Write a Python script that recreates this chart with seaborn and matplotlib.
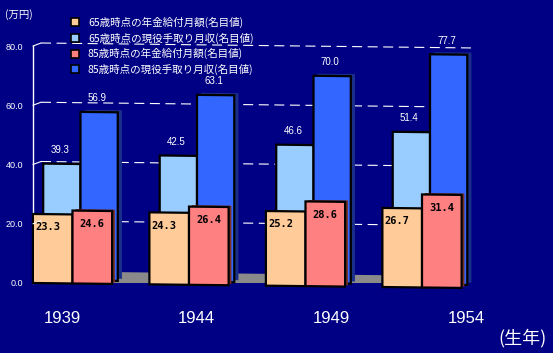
import math
import matplotlib
matplotlib.use('Agg')
import matplotlib.pyplot as plt
import matplotlib.transforms as mtransforms
from matplotlib import patheffects as pe
from matplotlib.patches import Patch
from matplotlib.font_manager import FontProperties
import pandas as pd
import seaborn as sns

# chart data
years = ['1939', '1944', '1949', '1954']
pension_65 = [23.3, 24.3, 25.2, 26.7]
income_65 = [39.3, 42.5, 46.6, 51.4]
pension_85 = [24.6, 26.4, 28.6, 31.4]
income_85 = [56.9, 63.1, 70.0, 77.7]
series_names = ['65歳時点の年金給付月額(名目値)', '65歳時点の現役手取り月収(名目値)',
                '85歳時点の年金給付月額(名目値)', '85歳時点の現役手取り月収(名目値)']
yticks = [0, 20, 40, 60, 80]

colors = ['#FFCC99', '#99CCFF', '#FF8080', '#3366FF']
NAVY = '#000084'
CJK = ['Noto Sans CJK JP', 'DejaVu Sans']

sns.set_theme(style='white')
plt.rcParams['font.family'] = ['Liberation Sans', 'DejaVu Sans']

front = pd.DataFrame({'year': years * 2, 'value': pension_65 + pension_85,
                      'series': [series_names[0]] * 4 + [series_names[2]] * 4})
back = pd.DataFrame({'year': years * 2, 'value': income_65 + income_85,
                     'series': [series_names[1]] * 4 + [series_names[3]] * 4})

fig = plt.figure(figsize=(5.53, 3.53), dpi=100, facecolor=NAVY)
ax = fig.add_axes([33 / 553, 70 / 353, 432 / 553, 237 / 353])
ax.set_facecolor(NAVY)

# slight perspective: the floor drops a few pixels to the right
x0 = 33
tilt = mtransforms.Affine2D().translate(-x0, 0).skew(0, math.atan(-0.0115)).translate(x0, 0)
persp = ax.transData + tilt
# back row pushed back a bit to fake the 3D depth
depth = mtransforms.offset_copy(persp, fig=fig, x=8, y=3, units='dots')

sns.barplot(data=back, x='year', y='value', hue='series', order=years,
            palette=[colors[1], colors[3]], width=0.64, saturation=1,
            edgecolor='black', linewidth=1.6, legend=False, ax=ax)
for p in ax.patches:
    p.set_transform(depth)
    p.set_clip_on(False)
    p.set_zorder(2)
for p in ax.containers[1]:
    p.set_path_effects([pe.SimplePatchShadow(offset=(3, 1.5), shadow_rgbFace='#1a2f8a', alpha=1), pe.Normal()])

# front row (pension)
sns.barplot(data=front, x='year', y='value', hue='series', order=years,
            palette=[colors[0], colors[2]], width=0.68, saturation=1,
            edgecolor='black', linewidth=1.6, legend=False, ax=ax)
for c in ax.containers[2:]:
    for p in c:
        p.set_transform(persp)
        p.set_zorder(3)
        p.set_clip_on(False)
for p in ax.containers[3]:
    p.set_path_effects([pe.SimplePatchShadow(offset=(2, 1), shadow_rgbFace='#7a3020', alpha=1), pe.Normal()])

# value labels
for c, vals in zip(ax.containers[:2], [income_65, income_85]):
    for bar, v in zip(c, vals):
        ax.annotate(f'{v:.1f}', xy=(bar.get_x() + bar.get_width() / 2, bar.get_height()),
                    xycoords=persp, xytext=(6, 17), textcoords='offset pixels',
                    ha='center', va='center', color='white', fontsize=7, zorder=5,
                    annotation_clip=False)
for c, vals, dx in zip(ax.containers[2:], [pension_65, pension_85], [-5, 0]):
    for bar, v in zip(c, vals):
        ax.annotate(f'{v:.1f}', xy=(bar.get_x() + bar.get_width() / 2, bar.get_height()),
                    xycoords=persp, xytext=(dx, -13), textcoords='offset pixels',
                    ha='center', va='center', color='black', fontsize=7.5,
                    fontweight='bold', family='DejaVu Sans Mono', zorder=5)

# back-wall dashed gridlines with slanted connectors
for v in yticks[1:]:
    ln = ax.axhline(v, color='white', lw=0.8, ls=(0, (9, 5)), zorder=1)
    ln.set_transform(mtransforms.offset_copy(ln.get_transform() + tilt, fig=fig, x=8, y=3, units='dots'))
    ln.set_clip_on(False)
    ax.annotate('', xy=(0, v), xycoords=ax.get_yaxis_transform(), xytext=(8, 3),
                textcoords='offset pixels',
                arrowprops=dict(arrowstyle='-', color='white', lw=0.8, shrinkA=0, shrinkB=0))

# grey floor
floor = ax.axhspan(0, 2, color='#8a8a8a', zorder=0.8, lw=0)
floor.set_transform(floor.get_transform() + tilt)

ax.set_xlim(-0.339, 3.369)
ax.set_ylim(0, 80)
ax.set_yticks(yticks)
ax.set_yticklabels([f'{t:.1f}' for t in yticks])
ax.tick_params(axis='y', colors='white', labelsize=6.5, length=0, pad=7)
ax.tick_params(axis='x', length=0, labelbottom=False)
ax.set_xlabel('')
ax.set_ylabel('')
for s in ['top', 'right', 'bottom']:
    ax.spines[s].set_visible(False)
ax.spines['left'].set_color('white')
ax.spines['left'].set_linewidth(1)
ax.grid(False)

# year labels follow the wider front perspective
ax2 = fig.add_axes([33 / 553, 70 / 353, 487 / 553, 237 / 353], facecolor='none')
ax2.set_xlim((33 - 62) / 134.7, (520 - 62) / 134.7)
ax2.set_xticks(range(len(years)), years)
ax2.set_yticks([])
for s in ax2.spines.values():
    s.set_visible(False)
ax2.tick_params(axis='x', length=0, pad=20, labelsize=12, colors='white')

fig.text(5 / 553, 1 - 15 / 353, '(万円)', color='white', fontsize=7.5, family=CJK, va='center')
fig.text(523 / 553, 1 - 338 / 353, '(生年)', color='white', fontsize=13, family=CJK,
         ha='center', va='center')

handles = [Patch(facecolor=c, edgecolor='black', lw=1.2) for c in colors]
fig.legend(handles, series_names, loc='upper left', bbox_to_anchor=(71 / 553, 1 - 17 / 353),
           frameon=False, prop=FontProperties(family=CJK, size=7.6), labelcolor='white',
           handlelength=0.8, handleheight=0.8, handletextpad=0.8, labelspacing=0.42,
           borderpad=0, borderaxespad=0)

fig.savefig('out.png', dpi=100, facecolor=NAVY)
